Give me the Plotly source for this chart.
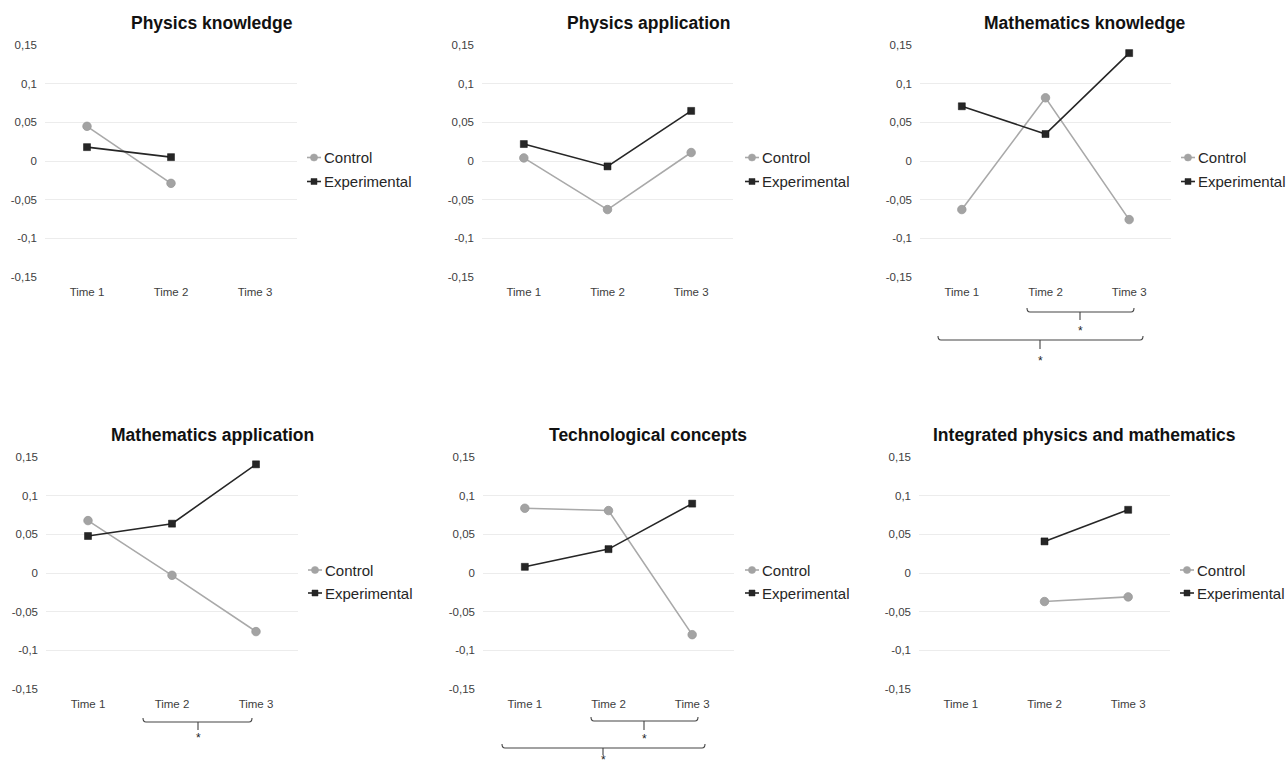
import plotly.graph_objects as go

W, H = 1287, 769

# ---------------- data ----------------
times = ["Time 1", "Time 2", "Time 3"]
panel_titles = ["Physics knowledge", "Physics application", "Mathematics knowledge",
                "Mathematics application", "Technological concepts",
                "Integrated physics and mathematics"]
series_names = ["Control", "Experimental"]

physics_knowledge_control = [0.045, -0.029, None]
physics_knowledge_experimental = [0.018, 0.005, None]
physics_application_control = [0.004, -0.063, 0.011]
physics_application_experimental = [0.022, -0.007, 0.065]
math_knowledge_control = [-0.063, 0.082, -0.076]
math_knowledge_experimental = [0.071, 0.035, 0.140]
math_application_control = [0.068, -0.003, -0.076]
math_application_experimental = [0.048, 0.064, 0.141]
tech_concepts_control = [0.084, 0.081, -0.080]
tech_concepts_experimental = [0.008, 0.031, 0.090]
integrated_control = [None, -0.037, -0.031]
integrated_experimental = [None, 0.041, 0.082]

y_tick_values = [0.15, 0.1, 0.05, 0, -0.05, -0.1, -0.15]
y_tick_labels = ["0,15", "0,1", "0,05", "0", "-0,05", "-0,1", "-0,15"]

control_series = [physics_knowledge_control, physics_application_control, math_knowledge_control,
                  math_application_control, tech_concepts_control, integrated_control]
experimental_series = [physics_knowledge_experimental, physics_application_experimental,
                       math_knowledge_experimental, math_application_experimental,
                       tech_concepts_experimental, integrated_experimental]

# significance brackets (pixels): x start, x end, x of centre tick, y of bar, tick length,
# y of star, star vertical anchor
brackets = [
    (1027, 1134, 1080, 312, 8, 331, "middle"),
    (938, 1143, 1040, 340, 9, 361, "middle"),
    (143, 252, 198, 722, 8, 738, "middle"),
    (591, 698, 644, 721, 9, 739, "middle"),
    (502, 705, 603, 748, 7, 768.5, "bottom"),
]

# ---------------- layout geometry (pixels) ----------------
plot_boxes = [  # x0, x1, y0(top), y1(bottom)
    (45, 297, 45, 277),
    (482, 733, 45, 277),
    (920, 1171, 45, 277),
    (46, 298, 457, 689),
    (483, 734, 457, 689),
    (919, 1170, 457, 689),
]
title_pos = [(212, 23), (648, 23), (1085, 23), (212, 435), (648, 435), (1084, 435)]
legend_pos = [(307, 157.5, 181.5), (745, 157.5, 181.5), (1181, 157.5, 181.5),
              (308, 570, 593), (745, 570, 593), (1180, 570, 593)]


def px(x):
    return x / W


def py(y):
    return 1 - y / H


FONT = "Liberation Sans, Arial, sans-serif"
CONTROL_LINE = "#a9a9a9"
CONTROL_MARK = "#a3a3a3"
EXP_COLOR = "#262626"
GRID = "#ececec"

fig = go.Figure()
layout = {}
annotations = []
shapes = []

for i in range(6):
    n = "" if i == 0 else str(i + 1)
    fig.add_trace(go.Scatter(
        x=times, y=control_series[i], name=series_names[0], mode="lines+markers",
        xaxis="x" + n, yaxis="y" + n, showlegend=False,
        line=dict(color=CONTROL_LINE, width=1.6),
        marker=dict(symbol="circle", size=8.5, color=CONTROL_MARK,
                    line=dict(color="#999999", width=0.8)),
        connectgaps=False,
    ))
    fig.add_trace(go.Scatter(
        x=times, y=experimental_series[i], name=series_names[1], mode="lines+markers",
        xaxis="x" + n, yaxis="y" + n, showlegend=False,
        line=dict(color=EXP_COLOR, width=1.6),
        marker=dict(symbol="square", size=7, color=EXP_COLOR,
                    line=dict(color="#111111", width=0.5)),
        connectgaps=False,
    ))
    x0, x1, y0, y1 = plot_boxes[i]
    layout["xaxis" + n] = dict(
        domain=[px(x0), px(x1)], anchor="y" + n, type="category",
        categoryorder="array", categoryarray=times, range=[-0.5, 2.5],
        showgrid=False, zeroline=False, showline=False, ticks="",
        ticklabelstandoff=6, automargin=False,
        tickfont=dict(family=FONT, size=11.5, color="#404040"),
        fixedrange=True,
    )
    layout["yaxis" + n] = dict(
        domain=[py(y1), py(y0)], anchor="x" + n, range=[-0.1505, 0.1505],
        tickvals=y_tick_values, ticktext=y_tick_labels,
        showgrid=True, gridcolor=GRID, gridwidth=1,
        zeroline=True, zerolinecolor=GRID, zerolinewidth=1,
        showline=False, ticks="", ticklabelstandoff=7, automargin=False,
        tickfont=dict(family=FONT, size=11.5, color="#404040"),
        fixedrange=True,
    )
    tx, ty = title_pos[i]
    annotations.append(dict(
        text="<b>" + panel_titles[i] + "</b>", x=px(tx), y=py(ty),
        xref="paper", yref="paper", xanchor="center", yanchor="middle",
        showarrow=False, font=dict(family=FONT, size=17.5, color="#111111"),
    ))

    # legend (line + marker + label) for this panel
    lx, ly1, ly2 = legend_pos[i]
    for (ly, name, lcol, mcol, kind, msz) in [
            (ly1, series_names[0], CONTROL_LINE, CONTROL_MARK, "circle", 3.6),
            (ly2, series_names[1], EXP_COLOR, EXP_COLOR, "rect", 3.0)]:
        shapes.append(dict(type="line", xref="paper", yref="paper",
                           x0=px(lx), x1=px(lx + 14), y0=py(ly), y1=py(ly),
                           line=dict(color=lcol, width=1.6)))
        cx = lx + 7
        shapes.append(dict(type=kind, xref="paper", yref="paper",
                           x0=px(cx - msz), x1=px(cx + msz),
                           y0=py(ly + msz), y1=py(ly - msz),
                           fillcolor=mcol, line=dict(color=mcol, width=0.5)))
        annotations.append(dict(
            text=name, x=px(lx + 14.5), y=py(ly), xref="paper", yref="paper",
            xanchor="left", yanchor="middle", showarrow=False,
            font=dict(family=FONT, size=15, color="#262626"),
        ))

for (bx0, bx1, bxc, by, tl, sy, sanchor) in brackets:
    path = (f"M {px(bx0)},{py(by - 4)} Q {px(bx0)},{py(by)} {px(bx0 + 3)},{py(by)} "
            f"L {px(bx1 - 3)},{py(by)} Q {px(bx1)},{py(by)} {px(bx1)},{py(by - 4)} "
            f"M {px(bxc)},{py(by)} L {px(bxc)},{py(by + tl)}")
    shapes.append(dict(type="path", path=path, xref="paper", yref="paper",
                       line=dict(color="#444444", width=1.1)))
    annotations.append(dict(
        text="*", x=px(bxc), y=py(sy), xref="paper", yref="paper",
        xanchor="center", yanchor=sanchor, showarrow=False,
        font=dict(family=FONT, size=12, color="#222222"),
    ))

fig.update_layout(
    template="none",
    width=W, height=H, autosize=False,
    margin=dict(l=0, r=0, t=0, b=0, pad=0, autoexpand=False),
    paper_bgcolor="white", plot_bgcolor="white",
    font=dict(family=FONT, color="#404040"),
    annotations=annotations, shapes=shapes,
    showlegend=False,
    **layout,
)

fig.write_html(
    "out.html",
    config={"displayModeBar": False},
    post_script="document.body.style.margin='0';document.body.style.overflow='hidden';",
)
